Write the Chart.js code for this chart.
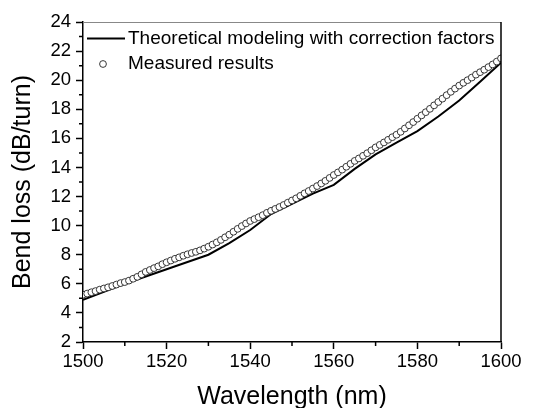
<!DOCTYPE html>
<html>
<head>
<meta charset="utf-8">
<script src="https://cdn.jsdelivr.net/npm/chart.js@4.4.1/dist/chart.umd.min.js"></script>
<style>
  html, body { margin: 0; padding: 0; background: #fff; }
  #wrap { width: 543px; height: 408px; }
</style>
</head>
<body>
<div id="wrap"><canvas id="bend"></canvas></div>
<script>
// theoretical model, read every 5 nm
const modelWl = [1500, 1505, 1510, 1515, 1520, 1525, 1530, 1535, 1540, 1545, 1550,
  1555, 1560, 1565, 1570, 1575, 1580, 1585, 1590, 1595, 1600];
const modelLoss = [4.9, 5.45, 6.0, 6.5, 7.0, 7.5, 8.0, 8.8, 9.7, 10.8, 11.5,
  12.2, 12.8, 13.9, 14.9, 15.7, 16.5, 17.5, 18.6, 19.9, 21.2];

// measured points, one per nm from 1500 to 1600
const measStart = 1500;
const measLoss = [
  5.25, 5.33, 5.42, 5.50, 5.60, 5.68, 5.76, 5.85, 5.95, 6.05,
  6.12, 6.22, 6.35, 6.48, 6.65, 6.82, 6.95, 7.08, 7.20, 7.35,
  7.48, 7.60, 7.72, 7.82, 7.93, 8.03, 8.12, 8.20, 8.30, 8.42,
  8.55, 8.70, 8.85, 9.02, 9.20, 9.38, 9.58, 9.78, 9.97, 10.15,
  10.32, 10.45, 10.58, 10.72, 10.88, 11.02, 11.15, 11.28, 11.42, 11.58,
  11.73, 11.88, 12.05, 12.22, 12.38, 12.55, 12.72, 12.90, 13.08, 13.28,
  13.48, 13.66, 13.85, 14.05, 14.25, 14.45, 14.62, 14.80, 14.98, 15.18,
  15.38, 15.55, 15.72, 15.90, 16.08, 16.25, 16.45, 16.68, 16.90, 17.12,
  17.35, 17.58, 17.80, 18.03, 18.27, 18.50, 18.73, 18.97, 19.20, 19.42,
  19.63, 19.82, 20.00, 20.18, 20.38, 20.55, 20.72, 20.90, 21.08, 21.28,
  21.50
];

const xMinor = [1510, 1530, 1550, 1570, 1590];
const yMinor = [3, 5, 7, 9, 11, 13, 15, 17, 19, 21, 23];

const seriesNames = ['Theoretical modeling with correction factors', 'Measured results'];

const FONT = 'Arial, "Liberation Sans", sans-serif';

// frame top/right, minor ticks
const framePlugin = {
  id: 'frame',
  afterDraw(chart) {
    const { ctx, chartArea: a, scales } = chart;
    ctx.save();
    ctx.strokeStyle = '#888';
    ctx.lineWidth = 1;
    ctx.beginPath();
    ctx.moveTo(a.left, a.top + 0.5);
    ctx.lineTo(a.right, a.top + 0.5);
    ctx.stroke();
    ctx.strokeStyle = '#000';
    ctx.lineWidth = 1.5;
    ctx.beginPath();
    ctx.moveTo(a.right, a.top);
    ctx.lineTo(a.right, a.bottom);
    ctx.stroke();
    ctx.beginPath();
    xMinor.forEach(v => {
      const px = scales.x.getPixelForValue(v);
      ctx.moveTo(px, a.bottom);
      ctx.lineTo(px, a.bottom + 4);
    });
    yMinor.forEach(v => {
      const py = scales.y.getPixelForValue(v);
      ctx.moveTo(a.left, py);
      ctx.lineTo(a.left - 4, py);
    });
    ctx.stroke();
    ctx.restore();
  }
};

// legend inside the plot
const legendPlugin = {
  id: 'innerLegend',
  afterDatasetsDraw(chart) {
    const { ctx, chartArea: a } = chart;
    const ds = chart.data.datasets;
    ctx.save();
    ctx.font = '19px ' + FONT;
    ctx.fillStyle = '#000';
    ctx.textBaseline = 'middle';
    const tx = a.left + 45;
    let y = a.top + 16.5;
    ctx.strokeStyle = ds[0].borderColor;
    ctx.lineWidth = ds[0].borderWidth;
    ctx.beginPath();
    ctx.moveTo(a.left + 4, y);
    ctx.lineTo(a.left + 42, y);
    ctx.stroke();
    ctx.fillText(ds[0].label, tx, y);
    y = a.top + 42;
    ctx.beginPath();
    ctx.arc(a.left + 20, y, ds[1].pointRadius, 0, Math.PI * 2);
    ctx.fillStyle = ds[1].pointBackgroundColor;
    ctx.fill();
    ctx.strokeStyle = ds[1].pointBorderColor;
    ctx.lineWidth = ds[1].pointBorderWidth;
    ctx.stroke();
    ctx.fillStyle = '#000';
    ctx.fillText(ds[1].label, tx, y);
    ctx.restore();
  }
};

new Chart(document.getElementById('bend'), {
  type: 'scatter',
  data: {
    datasets: [
      {
        label: seriesNames[0],
        data: modelWl.map((w, i) => ({ x: w, y: modelLoss[i] })),
        showLine: true,
        borderColor: '#000',
        borderWidth: 2,
        pointRadius: 0,
        order: 2
      },
      {
        label: seriesNames[1],
        data: measLoss.map((v, i) => ({ x: measStart + i, y: v })),
        showLine: false,
        pointRadius: 3.4,
        pointBorderWidth: 0.9,
        pointBorderColor: '#222',
        pointBackgroundColor: '#fff',
        order: 1
      }
    ]
  },
  options: {
    responsive: true,
    maintainAspectRatio: false,
    animation: false,
    layout: { padding: { top: 22, right: 42, left: 0, bottom: 0 } },
    plugins: {
      legend: { display: false },
      tooltip: { enabled: false }
    },
    scales: {
      x: {
        type: 'linear',
        min: 1500,
        max: 1600,
        ticks: { stepSize: 20, color: '#000', padding: 2, font: { family: FONT, size: 18.5 },
          callback: v => String(v) },
        grid: { drawOnChartArea: false, drawTicks: true, tickLength: 7, tickColor: '#000', tickWidth: 1.5 },
        border: { display: true, color: '#000', width: 1.5 },
        title: { display: true, text: 'Wavelength (nm)', color: '#000', padding: { top: 0, bottom: -1.5 },
          font: { family: FONT, size: 25, lineHeight: 1 } },
        afterFit(s) { s.height = 66; }
      },
      y: {
        min: 2,
        max: 24,
        ticks: { stepSize: 2, color: '#000', padding: 5, font: { family: FONT, size: 18.5 } },
        grid: { drawOnChartArea: false, drawTicks: true, tickLength: 7, tickColor: '#000', tickWidth: 1.5 },
        border: { display: true, color: '#000', width: 1.5 },
        title: { display: true, text: 'Bend loss (dB/turn)', color: '#000', padding: { top: 10.5, bottom: 0 },
          font: { family: FONT, size: 25, lineHeight: 1 } },
        afterFit(s) { s.width = 83; }
      }
    }
  },
  plugins: [framePlugin, legendPlugin]
});
</script>
</body>
</html>
